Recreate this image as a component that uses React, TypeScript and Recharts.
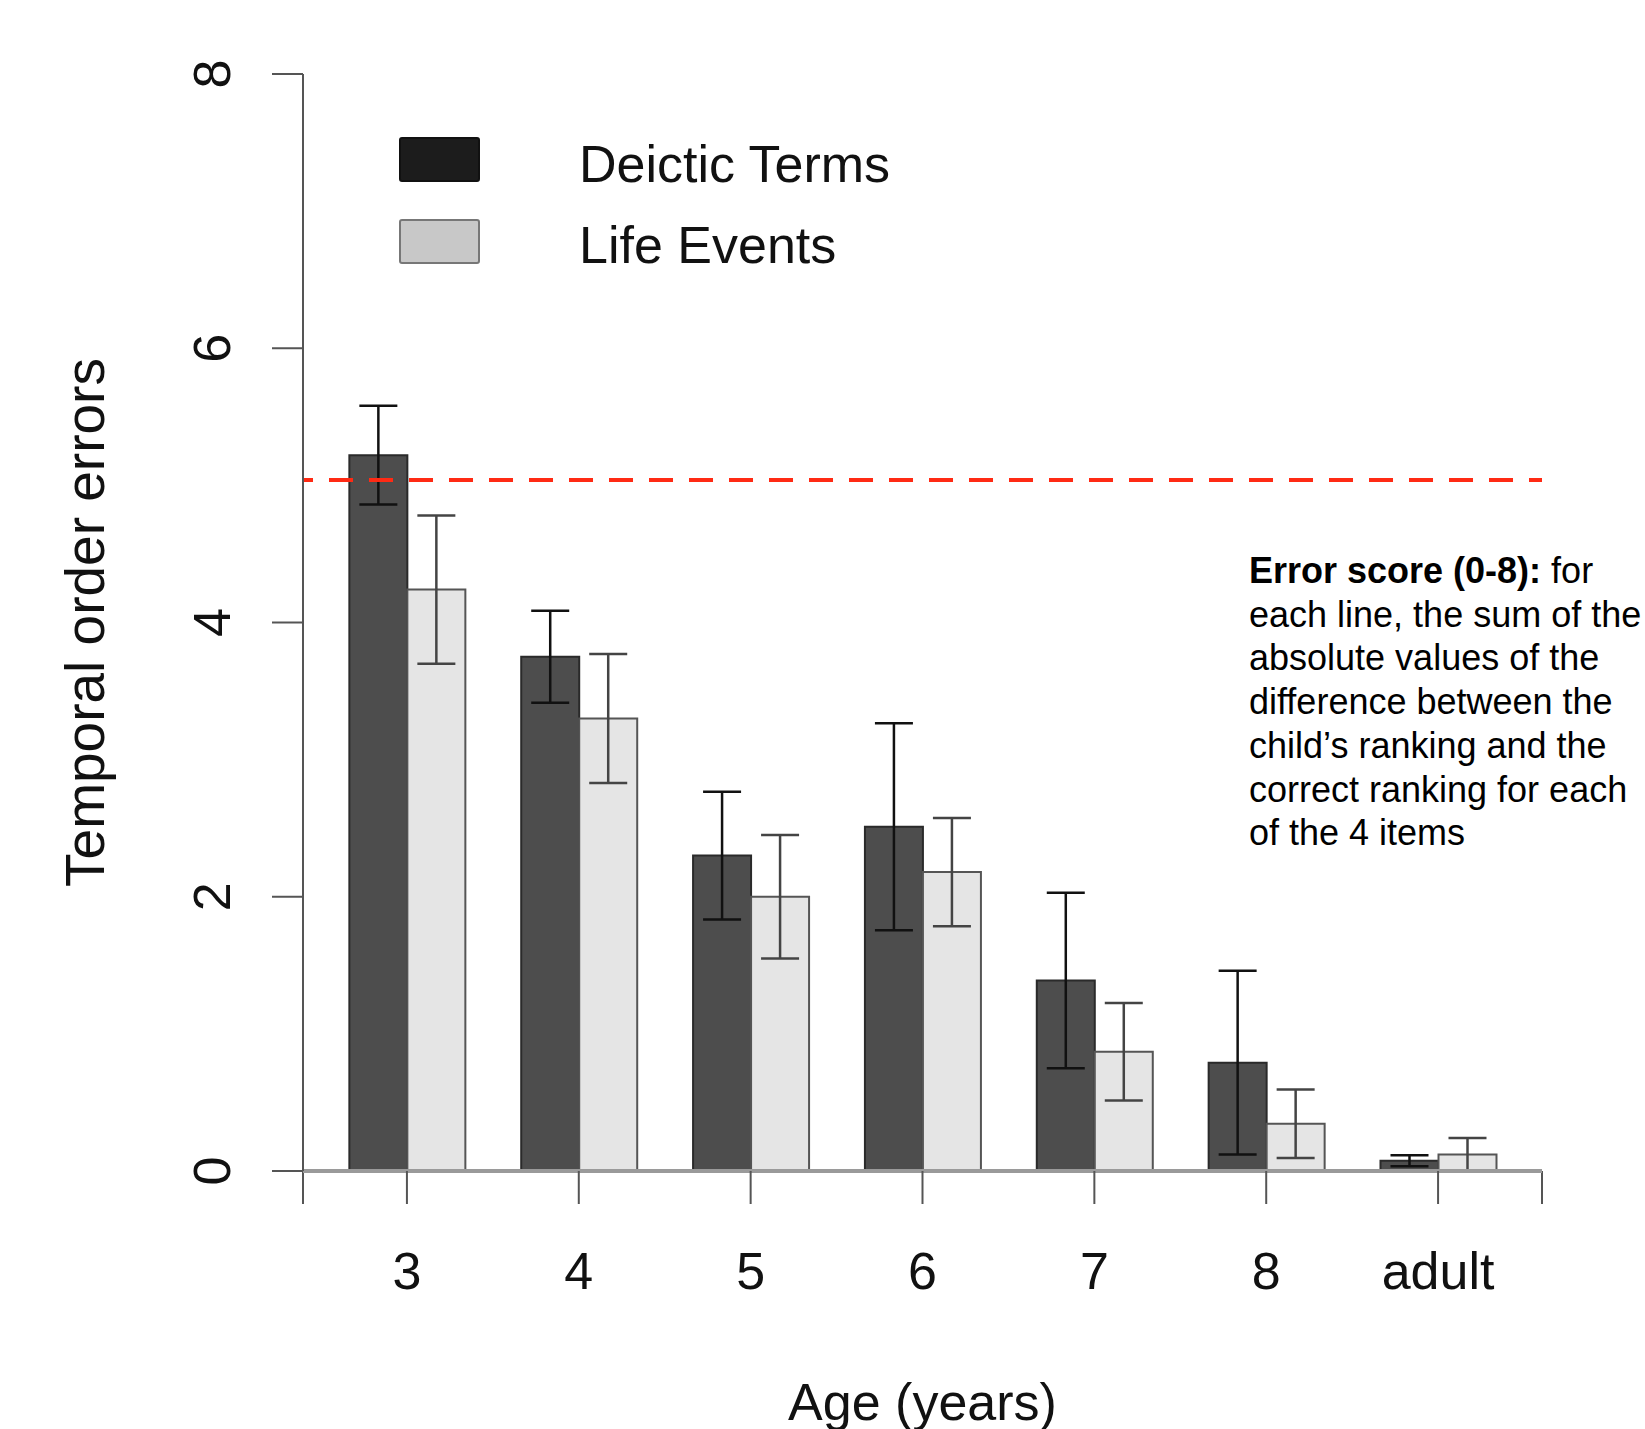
import { Bar, BarChart, ErrorBar, ReferenceLine, XAxis, YAxis } from "recharts";

const FONT = '"Liberation Sans", Arial, Helvetica, sans-serif';

// ages on the x axis
const ages = ["3", "4", "5", "6", "7", "8", "adult"];
// mean temporal order errors
const deicticMeans = [5.22, 3.75, 2.3, 2.51, 1.39, 0.79, 0.075];
const deicticErrors = [0.36, 0.335, 0.465, 0.755, 0.64, 0.67, 0.04];
const lifeMeans = [4.24, 3.3, 2.0, 2.18, 0.87, 0.345, 0.12];
const lifeErrors = [0.54, 0.47, 0.45, 0.395, 0.355, 0.25, 0.12];
// chance level (random ranking of 4 items)
const chanceLevel = 5.04;
const yTicks = [0, 2, 4, 6, 8];
// the x axis line ends in a tick at both sides (edge axis runs over the data index)
const edgeDomain = [0, ages.length - 1];
const edgeTickLength = 0.24;
const seriesNames = ["Deictic Terms", "Life Events"];
const noteLines = [
  "each line, the sum of the",
  "absolute values of the",
  "difference between the",
  "child\u2019s ranking and the",
  "correct ranking for each",
  "of the 4 items",
];

const data = ages.map((age, i) => ({
  age,
  deictic: deicticMeans[i],
  deicticErr: deicticErrors[i],
  life: lifeMeans[i],
  lifeErr: lifeErrors[i],
}));

const legendColors = [
  { fill: "#1c1c1c", stroke: "#111" },
  { fill: "#c8c8c8", stroke: "#777" },
];

function AgeTick({ x, y, payload }: any) {
  return (
    <text x={x} y={y} dy={85} textAnchor="middle" fontSize={52} fontFamily={FONT} fill="#111">
      {payload.value}
    </text>
  );
}

function CountTick({ x, y, payload }: any) {
  return (
    <text
      transform={`translate(${x - 42}, ${y}) rotate(-90)`}
      textAnchor="middle"
      fontSize={52}
      fontFamily={FONT}
      fill="#111"
    >
      {payload.value}
    </text>
  );
}

function Overlay() {
  return (
    <svg
      width={1645}
      height={1429}
      style={{ position: "absolute", left: 0, top: 0, pointerEvents: "none" }}
    >
      {seriesNames.map((name, i) => (
        <g key={name}>
          <rect
            x={400}
            y={138 + i * 82}
            width={79}
            height={43}
            rx={2}
            fill={legendColors[i].fill}
            stroke={legendColors[i].stroke}
            strokeWidth={2}
          />
          <text x={579} y={182 + i * 81} fontSize={52} fontFamily={FONT} fill="#111">
            {name}
          </text>
        </g>
      ))}
      <text fontSize={36} fontFamily={FONT} fill="#000">
        <tspan x={1249} y={583}>
          <tspan fontWeight="bold">Error score (0-8):</tspan> for
        </tspan>
        {noteLines.map((line, i) => (
          <tspan key={i} x={1249} y={583 + (i + 1) * 43.7}>
            {line}
          </tspan>
        ))}
      </text>
    </svg>
  );
}

export default function App() {
  return (
    <div style={{ position: "absolute", left: 0, top: 0, width: 1645, height: 1429, background: "#fff" }}>
      <BarChart
        width={1645}
        height={1429}
        data={data}
        margin={{ top: 74, right: 103, bottom: 0, left: 0 }}
        barCategoryGap="16.5%"
        barGap={0}
      >
        <XAxis
          xAxisId="group"
          dataKey="age"
          type="category"
          interval={0}
          padding={{ left: 18, right: 18 }}
          height={258}
          tickSize={33}
          tickMargin={0}
          axisLine={{ stroke: "#9a9a9a", strokeWidth: 4 }}
          tickLine={{ stroke: "#555", strokeWidth: 2 }}
          tick={<AgeTick />}
          label={{
            value: "Age (years)",
            position: "insideBottom",
            offset: 9,
            style: { fontSize: 52, fontFamily: FONT, fill: "#111" },
          }}
        />
        <XAxis
          xAxisId="edge"
          type="number"
          domain={edgeDomain}
          allowDataOverflow
          height={0}
          hide
        />
        <YAxis
          width={303}
          domain={[0, 8]}
          ticks={yTicks}
          interval={0}
          tickSize={31}
          tickMargin={0}
          axisLine={{ stroke: "#555", strokeWidth: 2 }}
          tickLine={{ stroke: "#555", strokeWidth: 2 }}
          tick={<CountTick />}
          label={{
            value: "Temporal order errors",
            angle: -90,
            position: "insideLeft",
            offset: 84,
            style: { textAnchor: "middle", fontSize: 55, fontFamily: FONT, fill: "#111" },
          }}
        />
        <Bar
          xAxisId="group"
          dataKey="deictic"
          name={seriesNames[0]}
          fill="#4d4d4d"
          stroke="#2a2a2a"
          strokeWidth={2}
          isAnimationActive={false}
        >
          <ErrorBar dataKey="deicticErr" direction="y" width={19} stroke="#111" strokeWidth={2.5} />
        </Bar>
        <Bar
          xAxisId="group"
          dataKey="life"
          name={seriesNames[1]}
          fill="#e5e5e5"
          stroke="#555"
          strokeWidth={2}
          isAnimationActive={false}
        >
          <ErrorBar dataKey="lifeErr" direction="y" width={19} stroke="#444" strokeWidth={2.5} />
        </Bar>
        {edgeDomain.map((t) => (
          <ReferenceLine
            key={t}
            xAxisId="edge"
            segment={[
              { x: t, y: 0 },
              { x: t, y: -edgeTickLength },
            ]}
            ifOverflow="visible"
            stroke="#555"
            strokeWidth={2}
          />
        ))}
        <ReferenceLine
          xAxisId="edge"
          y={chanceLevel}
          stroke="#ff2a14"
          strokeWidth={4}
          strokeDasharray="24 16"
          strokeDashoffset={14}
        />
      </BarChart>
      <Overlay />
    </div>
  );
}
